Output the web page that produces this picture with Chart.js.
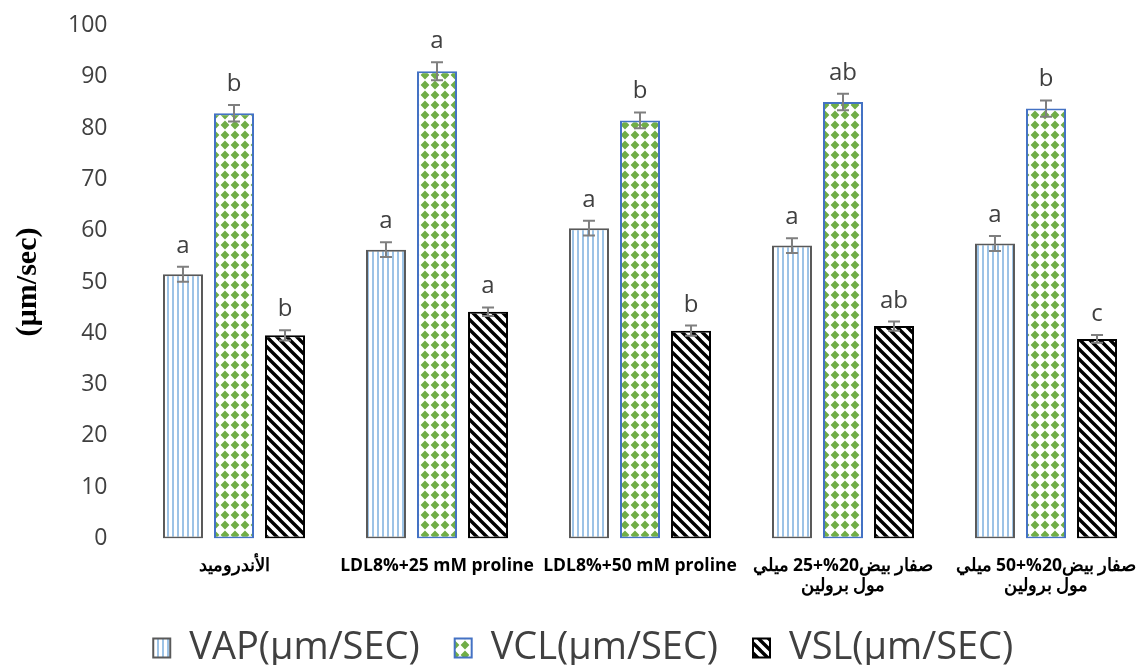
<!DOCTYPE html>
<html>
<head>
<meta charset="utf-8">
<script src="https://cdn.jsdelivr.net/npm/chart.js@4.4.1/dist/chart.umd.min.js"></script>
<style>
  html, body { margin: 0; padding: 0; background: #fff; overflow: hidden; }
  #wrap { width: 1150px; height: 665px; }
</style>
</head>
<body>
<div id="wrap"><canvas id="c" width="1150" height="665"></canvas></div>
<script>
// Treatment groups along the x axis
const categories = [
  'الأندروميد',
  'LDL8%+25 mM proline',
  'LDL8%+50 mM proline',
  ['صفار بيض20%+25 ميلي', 'مول برولين'],
  ['صفار بيض20%+50 ميلي', 'مول برولين']
];
const seriesNames = ['VAP(µm/SEC)', 'VCL(µm/SEC)', 'VSL(µm/SEC)'];

// Mean velocities (µm/sec)
const vap = [51.5, 56.3, 60.5, 57.1, 57.5];
const vcl = [82.9, 91.1, 81.5, 85.1, 83.8];
const vsl = [39.6, 44.2, 40.5, 41.4, 38.9];

// Standard errors
const vapErr = [1.45, 1.45, 1.45, 1.45, 1.45];
const vclErr = [1.6, 1.75, 1.55, 1.6, 1.6];
const vslErr = [1.0, 0.85, 1.0, 0.9, 0.75];

// Significance letters
const vapLetters = ['a', 'a', 'a', 'a', 'a'];
const vclLetters = ['b', 'a', 'b', 'ab', 'b'];
const vslLetters = ['b', 'a', 'b', 'ab', 'c'];

// Y axis ticks
const yTickValues = [0, 10, 20, 30, 40, 50, 60, 70, 80, 90, 100];

const canvas = document.getElementById('c');
const ctx = canvas.getContext('2d');

function makeTile(w, h, draw) {
  const t = document.createElement('canvas');
  t.width = w; t.height = h;
  const g = t.getContext('2d');
  g.fillStyle = '#ffffff';
  g.fillRect(0, 0, w, h);
  draw(g);
  return ctx.createPattern(t, 'repeat');
}

// thin light-blue vertical stripes
const vapFill = makeTile(5, 5, g => {
  g.fillStyle = '#9dc3e6';
  g.fillRect(2, 0, 2, 5);
});

// green diamond dots
const vclFill = makeTile(10, 10, g => {
  g.fillStyle = '#70ad47';
  g.beginPath();
  g.moveTo(5, 0.6); g.lineTo(9.4, 5); g.lineTo(5, 9.4); g.lineTo(0.6, 5);
  g.closePath();
  g.fill();
});

// heavy black downward diagonals
const vslFill = makeTile(10, 10, g => {
  g.strokeStyle = '#000000';
  g.lineWidth = 3.4;
  g.beginPath();
  for (let k = -1; k <= 1; k++) {
    g.moveTo(k * 10 - 1, -1);
    g.lineTo(k * 10 + 11, 11);
  }
  g.stroke();
});

const errors = [vapErr, vclErr, vslErr];
const letters = [vapLetters, vclLetters, vslLetters];

const errorBarsAndLetters = {
  id: 'errorBarsAndLetters',
  afterDatasetsDraw(chart) {
    const c = chart.ctx;
    const y = chart.scales.y;
    chart.data.datasets.forEach((ds, di) => {
      const meta = chart.getDatasetMeta(di);
      meta.data.forEach((bar, i) => {
        const v = ds.data[i];
        const e = errors[di][i];
        const yTop = y.getPixelForValue(v + e);
        const yBot = y.getPixelForValue(v - e);
        const x = bar.x;
        c.save();
        c.strokeStyle = '#7f7f7f';
        c.lineWidth = 2;
        c.beginPath();
        c.moveTo(x, yTop); c.lineTo(x, yBot);
        c.moveTo(x - 6, yTop); c.lineTo(x + 6, yTop);
        c.moveTo(x - 6, yBot); c.lineTo(x + 6, yBot);
        c.stroke();
        c.fillStyle = '#404040';
        c.font = '24px "Open Sans"';
        c.textAlign = 'center';
        c.textBaseline = 'alphabetic';
        c.fillText(letters[di][i], x, yTop - 14);
        c.restore();
      });
    });
  }
};

new Chart(ctx, {
  type: 'bar',
  data: {
    labels: categories,
    datasets: [
      { label: seriesNames[0], data: vap, backgroundColor: vapFill, borderColor: '#595959', borderWidth: 2, borderSkipped: false },
      { label: seriesNames[1], data: vcl, backgroundColor: vclFill, borderColor: '#4472c4', borderWidth: 2, borderSkipped: false },
      { label: seriesNames[2], data: vsl, backgroundColor: vslFill, borderColor: '#000000', borderWidth: 2, borderSkipped: false }
    ]
  },
  options: {
    responsive: false,
    animation: false,
    devicePixelRatio: 1,
    categoryPercentage: 0.754,
    barPercentage: 0.784,
    layout: { padding: { left: 19, right: 2.5, top: 25.5, bottom: -12 } },
    plugins: {
      tooltip: { enabled: false },
      legend: {
        position: 'bottom',
        labels: {
          font: { family: 'Open Sans', size: 38 },
          color: '#404040',
          boxWidth: 17,
          boxHeight: 19,
          padding: 35
        }
      }
    },
    scales: {
      x: {
        grid: { display: false },
        border: { display: false },
        ticks: {
          font: { family: 'Open Sans', size: 17.5, weight: 'bold', lineHeight: 1.15 },
          color: '#000000',
          padding: 9,
          maxRotation: 0,
          autoSkip: false
        },
        afterFit: s => {
          s.height = 55.5;
          s.paddingLeft = 0;
          s.paddingRight = 0;
          // let the two-line labels run past the axis box
          s._computeLabelArea = () => null;
        }
      },
      y: {
        min: 0,
        max: 100,
        afterBuildTicks: s => { s.ticks = yTickValues.map(v => ({ value: v })); },
        grid: { display: false, drawTicks: false },
        border: { display: false },
        ticks: {
          font: { family: 'Open Sans', size: 23 },
          color: '#404040',
          padding: 25
        },
        title: {
          display: true,
          text: '(µm/sec)',
          font: { family: 'Liberation Serif', size: 30, weight: 'bold' },
          color: '#000000',
          padding: { top: -9, bottom: 0 }
        },
        afterFit: s => { s.width = 113.5; s.paddingTop = 0; s.paddingBottom = 0; }
      }
    }
  },
  plugins: [errorBarsAndLetters]
});
</script>
</body>
</html>
